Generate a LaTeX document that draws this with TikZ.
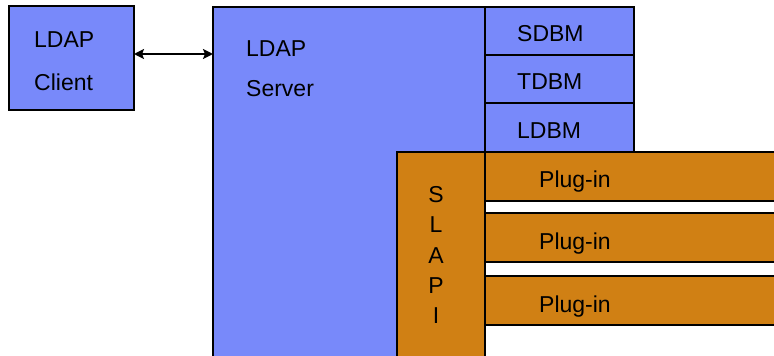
\documentclass[tikz,border=0pt]{standalone}
\usepackage{fontspec}
\setmainfont{Liberation Sans}
\usetikzlibrary{arrows.meta}
\definecolor{ldapblue}{RGB}{120,137,250}
\definecolor{plugorange}{RGB}{208,128,20}
\tikzset{
  box/.style={draw=black,line width=1.8pt,rectangle,inner sep=0pt,outer sep=0pt,anchor=north west},
  bluebox/.style={box,fill=ldapblue},
  orangebox/.style={box,fill=plugorange},
  txt/.style={anchor=base west,inner sep=0pt,font=\fontsize{23}{23}\selectfont},
  ctxt/.style={anchor=base,inner sep=0pt,font=\fontsize{23}{23}\selectfont}
}
\begin{document}
\begin{tikzpicture}[x=1pt,y=-1pt]
\useasboundingbox (0,0) rectangle (774,356);
\clip (0,0) rectangle (774,356);

% client
\node[bluebox,minimum width=125pt,minimum height=104pt] (client) at (9,6) {};
\node[txt] (clientA) at (34,47) {LDAP};
\node[txt] (clientB) at (34,90) {Client};

% server
\node[bluebox,minimum width=272pt,minimum height=370pt] (server) at (213,7) {};
\node[txt] (serverA) at (246,56) {LDAP};
\node[txt] (serverB) at (246,96) {Server};

% back ends
\node[bluebox,minimum width=149pt,minimum height=48pt] (sdbm) at (485,7) {};
\node[bluebox,minimum width=149pt,minimum height=48pt] (tdbm) at (485,55) {};
\node[bluebox,minimum width=149pt,minimum height=49pt] (ldbm) at (485,103) {};
\node[txt] at (517,41.5) {SDBM};
\node[txt] at (517,89.5) {TDBM};
\node[txt] at (517,138) {LDBM};

% SLAPI
\node[orangebox,minimum width=88pt,minimum height=230pt] (slapi) at (397,152) {};
\node[ctxt] at (436,202) {S};
\node[ctxt] at (436,232) {L};
\node[ctxt] at (436,263) {A};
\node[ctxt] at (436,293) {P};
\node[ctxt] at (436,323) {I};

% plug-ins
\node[orangebox,minimum width=320pt,minimum height=49pt] (plugA) at (485,152) {};
\node[orangebox,minimum width=320pt,minimum height=49pt] (plugB) at (485,213) {};
\node[orangebox,minimum width=320pt,minimum height=49pt] (plugC) at (485,276) {};
\node[txt] at (539,187) {Plug-in};
\node[txt] at (539,249) {Plug-in};
\node[txt] at (539,312.5) {Plug-in};

% client <-> server
\coordinate (arrowlevel) at (0,54);
\draw[line width=2.4pt,{Stealth[length=10pt,width=10pt,inset=2pt]}-{Stealth[length=10pt,width=10pt,inset=2pt]}]
  (client.east |- arrowlevel) -- (server.west |- arrowlevel);
\end{tikzpicture}
\end{document}
